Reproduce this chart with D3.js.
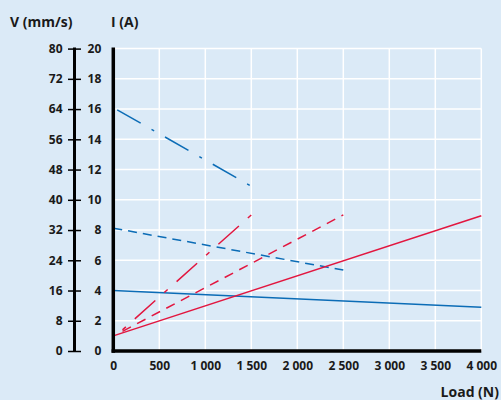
<!DOCTYPE html>
<html>
<head>
<meta charset="utf-8">
<script src="https://cdn.jsdelivr.net/npm/d3@7"></script>
<style>
  html, body { margin: 0; padding: 0; background: #dbeaf7; }
  svg { display: block; }
  text { font-family: "Open Sans", "Noto Sans", sans-serif; font-weight: 700; fill: #1a1a1a; }
</style>
</head>
<body>
<svg id="chart" width="501" height="400"></svg>
<script>
// ---- data ----
const loadTicks = [0, 500, 1000, 1500, 2000, 2500, 3000, 3500, 4000];
const loadTickLabels = ["0", "500", "1 000", "1 500", "2 000", "2 500", "3 000", "3 500", "4 000"];
const speedTicks = [0, 8, 16, 24, 32, 40, 48, 56, 64, 72, 80];
const currentTicks = [0, 2, 4, 6, 8, 10, 12, 14, 16, 18, 20];

// speed lines (V, mm/s) – blue
const speedSolidLoad = [0, 4000];
const speedSolidV = [16, 11.6];
const speedDashedLoad = [0, 2500];
const speedDashedV = [32.5, 21.4];
const speedDashDotLoad = [0, 1500];
const speedDashDotV = [64.4, 43.6];

// current lines (I, A) – red
const currentSolidLoad = [0, 4000];
const currentSolidI = [1.0, 8.95];
const currentDashedLoad = [100, 2500];
const currentDashedI = [1.3, 9.0];
const currentDashDotLoad = [100, 1500];
const currentDashDotI = [1.4, 9.0];

// ---- layout ----
const svg = d3.select("#chart");
const mLeft = 113.3, mRight = 481.3, mTop = 48.6, mBottom = 351;
const blue = "#0b6cb6", red = "#e2163f";

const x = d3.scaleLinear().domain([0, 4000]).range([mLeft, mRight]);
const yI = d3.scaleLinear().domain([0, 20]).range([mBottom, mTop]);
const yV = d3.scaleLinear().domain([0, 80]).range([mBottom, mTop]);

// grid
svg.append("g").selectAll("line").data(loadTicks.slice(1)).join("line")
  .attr("x1", d => x(d)).attr("x2", d => x(d))
  .attr("y1", mTop).attr("y2", mBottom)
  .attr("stroke", "#fff").attr("stroke-width", 1.5);
svg.append("g").selectAll("line").data(currentTicks.slice(1)).join("line")
  .attr("x1", mLeft).attr("x2", mRight)
  .attr("y1", d => yI(d)).attr("y2", d => yI(d))
  .attr("stroke", "#fff").attr("stroke-width", 1.5);

// lines
const series = [
  { load: speedSolidLoad, val: speedSolidV, y: yV, color: blue, dash: null, off: 0 },
  { load: speedDashedLoad, val: speedDashedV, y: yV, color: blue, dash: "9,6", off: 0 },
  { load: speedDashDotLoad, val: speedDashDotV, y: yV, color: blue, dash: "27,12.5,3,12.5", off: -4.5 },
  { load: currentSolidLoad, val: currentSolidI, y: yI, color: red, dash: null, off: 0 },
  { load: currentDashedLoad, val: currentDashedI, y: yI, color: red, dash: "9.5,7", off: 0 },
  { load: currentDashDotLoad, val: currentDashDotI, y: yI, color: red, dash: "4.5,12,27.5,12", off: 0 },
];
series.forEach(s => {
  const pts = s.load.map((l, i) => [l, s.val[i]]);
  const line = d3.line().x(d => x(d[0])).y(d => s.y(d[1]));
  svg.append("path").datum(pts)
    .attr("d", line)
    .attr("fill", "none")
    .attr("stroke", s.color)
    .attr("stroke-width", 1.5)
    .attr("stroke-dasharray", s.dash)
    .attr("stroke-dashoffset", s.off);
});

// plot frame axes (thick)
svg.append("line").attr("x1", mLeft).attr("x2", mLeft).attr("y1", mTop - 1).attr("y2", mBottom + 1.7)
  .attr("stroke", "#000").attr("stroke-width", 3.5);
svg.append("line").attr("x1", mLeft - 1.7).attr("x2", mRight).attr("y1", mBottom).attr("y2", mBottom)
  .attr("stroke", "#000").attr("stroke-width", 3.5);

// V axis
const vAxisX = 74.5;
const vAxis = d3.axisLeft(yV).tickValues(speedTicks).tickSize(0).tickPadding(12);
const gV = svg.append("g").attr("transform", `translate(${vAxisX},0)`).call(vAxis);
gV.select(".domain").remove();
gV.selectAll(".tick text").attr("font-size", 12).attr("fill", "#1a1a1a")
  .style("font-family", '"Open Sans", sans-serif').style("font-weight", 700);
gV.selectAll(".tick").append("line")
  .attr("x1", -6.5).attr("x2", 6.5).attr("stroke", "#000").attr("stroke-width", 1.5);
svg.append("line").attr("x1", vAxisX).attr("x2", vAxisX).attr("y1", mTop - 1).attr("y2", mBottom + 1)
  .attr("stroke", "#000").attr("stroke-width", 3);

// I axis labels
const iAxis = d3.axisLeft(yI).tickValues(currentTicks).tickSize(0).tickPadding(12);
const gI = svg.append("g").attr("transform", `translate(${mLeft},0)`).call(iAxis);
gI.select(".domain").remove();
gI.selectAll(".tick text").attr("font-size", 12).attr("fill", "#1a1a1a")
  .style("font-family", '"Open Sans", sans-serif').style("font-weight", 700);

// X axis labels
const xAxis = d3.axisBottom(x).tickValues(loadTicks)
  .tickFormat((d, i) => loadTickLabels[i]).tickSize(0).tickPadding(10);
const gX = svg.append("g").attr("transform", `translate(0,${mBottom})`).call(xAxis);
gX.select(".domain").remove();
gX.selectAll(".tick text").attr("font-size", 12).attr("fill", "#1a1a1a")
  .style("font-family", '"Open Sans", sans-serif').style("font-weight", 700);

// titles
svg.append("text").attr("x", 10).attr("y", 27).attr("font-size", 14).text("V (mm/s)");
svg.append("text").attr("x", 111).attr("y", 27).attr("font-size", 14).text("I (A)");
svg.append("text").attr("x", 499).attr("y", 397).attr("font-size", 14)
  .attr("text-anchor", "end").text("Load (N)");
</script>
</body>
</html>
